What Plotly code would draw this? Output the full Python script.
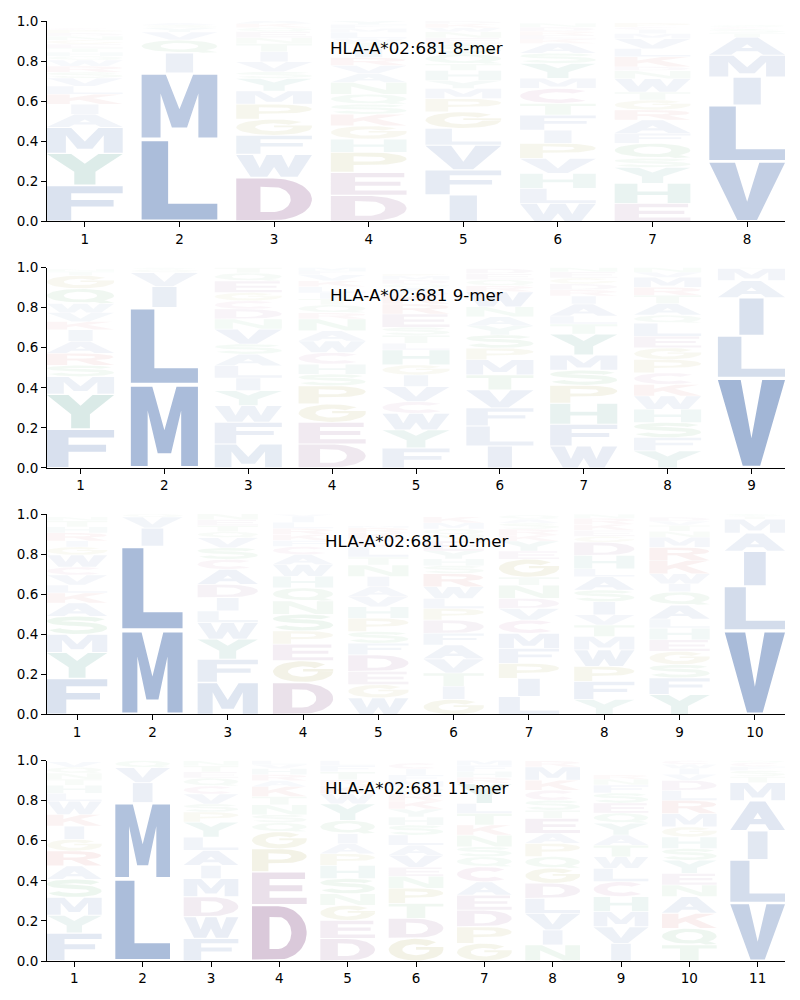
import numpy as np
import plotly.graph_objects as go
from plotly.subplots import make_subplots

# ---------------- data (bottom-to-top stacks, probability heights) ----------------
TITLES = ["HLA-A*02:681 8-mer", "HLA-A*02:681 9-mer",
          "HLA-A*02:681 10-mer", "HLA-A*02:681 11-mer"]

LOGO_8 = [
    [("F", .18), ("Y", .16), ("M", .13), ("A", .065), ("I", .05), ("K", .05), ("L", .04), ("V", .04),
     ("S", .03), ("R", .03), ("W", .03), ("Q", .02), ("H", .02), ("T", .02), ("E", .02), ("G", .02),
     ("N", .02), ("D", .015), ("P", .015), ("C", .01)],
    [("L", .41), ("M", .33), ("I", .10), ("Q", .065), ("V", .04), ("Y", .02), ("S", .015), ("A", .01)],
    [("D", .22), ("W", .115), ("F", .095), ("G", .08), ("P", .075), ("M", .066), ("Y", .063), ("S", .033),
     ("V", .05), ("I", .05), ("T", .04), ("N", .03), ("E", .03), ("Q", .02), ("K", .02), ("A", .02)],
    [("D", .13), ("E", .115), ("P", .10), ("H", .066), ("G", .066), ("K", .058), ("S", .05), ("Q", .05),
     ("N", .058), ("A", .045), ("V", .04), ("R", .04), ("I", .045), ("T", .03), ("W", .02), ("L", .03),
     ("M", .02), ("F", .02), ("Y", .017)],
    [("I", .133), ("F", .124), ("V", .124), ("L", .083), ("G", .083), ("P", .066), ("M", .05), ("Y", .04),
     ("H", .05), ("T", .033), ("Q", .05), ("S", .05), ("E", .03), ("N", .03), ("W", .02), ("K", .02),
     ("D", .014)],
    [("W", .09), ("L", .075), ("H", .075), ("V", .075), ("P", .075), ("I", .066), ("F", .075), ("T", .058),
     ("C", .075), ("M", .05), ("Y", .075), ("S", .05), ("A", .05), ("K", .02), ("E", .02), ("R", .02),
     ("D", .02), ("N", .02)],
    [("E", .09), ("H", .10), ("Y", .08), ("S", .045), ("Q", .075), ("F", .05), ("A", .066), ("R", .05),
     ("G", .05), ("T", .04), ("W", .066), ("N", .04), ("D", .02), ("K", .05), ("L", .04), ("V", .05),
     ("M", .025), ("I", .02), ("C", .013), ("P", .02)],
    [("V", .30), ("L", .28), ("I", .14), ("M", .11), ("A", .09), ("T", .02), ("S", .02), ("C", .01),
     ("Q", .01)],
]

LOGO_9 = [
    [("F", .194), ("Y", .174), ("M", .088), ("S", .056), ("R", .06), ("A", .06), ("I", .058), ("K", .04),
     ("V", .045), ("W", .045), ("Q", .075), ("G", .066), ("T", .02), ("N", .01)],
    [("M", .415), ("L", .385), ("I", .105), ("V", .07), ("Q", .015), ("S", .01)],
    [("M", .12), ("F", .108), ("W", .083), ("Y", .075), ("I", .063), ("L", .061), ("A", .058), ("S", .05),
     ("V", .075), ("N", .05), ("D", .05), ("C", .041), ("G", .041), ("E", .058), ("Q", .04), ("T", .027)],
    [("D", .12), ("E", .108), ("G", .091), ("P", .091), ("S", .058), ("H", .05), ("C", .058), ("W", .058),
     ("A", .05), ("N", .06), ("R", .03), ("Q", .04), ("T", .03), ("I", .03), ("L", .03), ("K", .03),
     ("V", .03), ("F", .02), ("M", .016)],
    [("F", .10), ("Y", .09), ("W", .083), ("C", .058), ("V", .075), ("I", .058), ("G", .05), ("H", .075),
     ("L", .033), ("T", .04), ("S", .04), ("E", .066), ("R", .05), ("K", .05), ("A", .03), ("Q", .02),
     ("D", .02), ("M", .02), ("P", .01)],
    [("I", .11), ("L", .10), ("F", .09), ("V", .09), ("T", .075), ("M", .075), ("P", .058), ("S", .066),
     ("Y", .045), ("A", .045), ("N", .05), ("W", .075), ("R", .03), ("Q", .03), ("E", .03), ("D", .026)],
    [("W", .11), ("F", .108), ("H", .105), ("P", .09), ("S", .075), ("M", .075), ("Y", .105), ("T", .05),
     ("L", .04), ("A", .06), ("I", .04), ("R", .03), ("D", .03), ("G", .03), ("E", .03), ("N", .022)],
    [("Y", .086), ("F", .066), ("S", .075), ("H", .066), ("W", .066), ("K", .058), ("C", .058), ("P", .066),
     ("G", .058), ("E", .058), ("L", .066), ("Q", .04), ("A", .058), ("T", .04), ("R", .04), ("M", .05),
     ("V", .025), ("N", .025)],
    [("V", .45), ("L", .21), ("I", .19), ("A", .085), ("M", .06), ("T", .005)],
]

LOGO_10 = [
    [("F", .18), ("Y", .13), ("M", .09), ("S", .09), ("A", .066), ("K", .05), ("L", .04), ("V", .05),
     ("C", .04), ("W", .06), ("G", .04), ("I", .03), ("R", .04), ("H", .03), ("T", .03), ("N", .02)],
    [("M", .42), ("L", .42), ("I", .09), ("V", .055), ("Q", .015)],
    [("M", .16), ("F", .116), ("Y", .10), ("W", .083), ("L", .058), ("I", .066), ("D", .066), ("A", .075),
     ("C", .05), ("S", .058), ("V", .05), ("Q", .03), ("T", .03), ("E", .03), ("N", .03)],
    [("D", .16), ("G", .108), ("E", .083), ("P", .066), ("S", .083), ("N", .066), ("Q", .066), ("H", .058),
     ("W", .058), ("A", .05), ("C", .04), ("F", .03), ("K", .03), ("R", .03), ("L", .03), ("I", .03),
     ("V", .01)],
    [("W", .083), ("G", .066), ("E", .066), ("D", .083), ("F", .058), ("S", .058), ("P", .066), ("H", .058),
     ("V", .05), ("A", .05), ("I", .05), ("N", .058), ("T", .04), ("L", .05), ("C", .04), ("K", .03),
     ("R", .025), ("M", .01)],
    [("G", .075), ("I", .066), ("T", .066), ("V", .07), ("A", .07), ("F", .058), ("D", .066), ("P", .058),
     ("L", .05), ("W", .058), ("R", .066), ("S", .04), ("H", .033), ("Y", .04), ("E", .05), ("N", .03),
     ("Q", .03), ("M", .03), ("K", .03)],
    [("L", .09), ("I", .09), ("P", .075), ("F", .075), ("M", .075), ("C", .066), ("V", .058), ("D", .05),
     ("N", .066), ("T", .04), ("G", .09), ("E", .04), ("Y", .05), ("K", .03), ("R", .03), ("S", .03),
     ("A", .02), ("Q", .02)],
    [("Y", .075), ("F", .09), ("P", .075), ("W", .083), ("M", .066), ("T", .058), ("V", .05), ("I", .066),
     ("S", .058), ("A", .066), ("L", .04), ("H", .066), ("D", .066), ("G", .03), ("E", .03), ("K", .03),
     ("R", .03), ("N", .02)],
    [("Y", .10), ("F", .083), ("S", .066), ("G", .066), ("E", .058), ("H", .058), ("L", .045), ("A", .07),
     ("Q", .066), ("I", .04), ("W", .05), ("K", .066), ("R", .066), ("M", .05), ("N", .03), ("T", .03),
     ("V", .02), ("D", .02)],
    [("V", .42), ("L", .22), ("I", .175), ("A", .09), ("M", .07), ("T", .015), ("S", .01)],
]

LOGO_11 = [
    [("F", .14), ("Y", .088), ("M", .09), ("S", .09), ("A", .066), ("R", .075), ("G", .058), ("I", .066),
     ("K", .058), ("W", .066), ("L", .04), ("H", .04), ("T", .03), ("N", .03), ("Q", .03), ("V", .026)],
    [("L", .41), ("M", .38), ("I", .10), ("V", .075), ("Q", .035)],
    [("F", .113), ("W", .108), ("D", .10), ("M", .09), ("I", .066), ("A", .075), ("L", .066), ("Y", .075),
     ("P", .05), ("S", .04), ("V", .05), ("C", .04), ("Q", .04), ("E", .03), ("T", .03), ("N", .025)],
    [("D", .28), ("E", .165), ("P", .115), ("G", .085), ("Q", .045), ("S", .04), ("N", .05), ("T", .04),
     ("K", .05), ("A", .03), ("R", .03), ("H", .03), ("V", .02), ("L", .02)],
    [("D", .113), ("E", .09), ("G", .075), ("N", .058), ("S", .075), ("H", .066), ("P", .058), ("A", .05),
     ("I", .05), ("Q", .066), ("Y", .083), ("W", .05), ("K", .04), ("R", .03), ("T", .04), ("F", .03),
     ("L", .025)],
    [("G", .113), ("D", .10), ("T", .075), ("P", .075), ("N", .06), ("E", .045), ("V", .06), ("A", .05),
     ("L", .05), ("S", .05), ("H", .04), ("Y", .04), ("K", .04), ("R", .04), ("Q", .03), ("M", .03),
     ("F", .03), ("I", .03), ("C", .03)],
    [("G", .088), ("P", .083), ("D", .083), ("E", .075), ("A", .066), ("C", .075), ("Q", .05), ("S", .05),
     ("N", .058), ("K", .05), ("T", .058), ("L", .05), ("Y", .10), ("R", .03), ("H", .03), ("F", .03),
     ("M", .026)],
    [("N", .08), ("I", .075), ("V", .083), ("L", .075), ("D", .075), ("G", .075), ("Q", .058), ("P", .066),
     ("A", .05), ("E", .075), ("T", .04), ("S", .05), ("C", .05), ("K", .05), ("M", .066), ("R", .03)],
    [("I", .088), ("V", .083), ("M", .075), ("H", .075), ("C", .075), ("L", .066), ("W", .058), ("T", .058),
     ("A", .05), ("Y", .06), ("Q", .05), ("E", .05), ("S", .05), ("F", .04), ("N", .03), ("R", .02)],
    [("T", .08), ("Q", .083), ("K", .075), ("A", .083), ("N", .058), ("E", .058), ("Y", .066), ("S", .058),
     ("H", .058), ("G", .05), ("M", .066), ("R", .066), ("L", .05), ("D", .05), ("V", .03), ("I", .03),
     ("W", .02), ("C", .02)],
    [("V", .29), ("L", .215), ("I", .145), ("A", .15), ("M", .09), ("T", .03), ("S", .03), ("F", .02),
     ("C", .02), ("Q", .01)],
]

LOGOS = [LOGO_8, LOGO_9, LOGO_10, LOGO_11]
Y_TICKS = [0.0, 0.2, 0.4, 0.6, 0.8, 1.0]

# ---------------- styles ----------------
BASE_COLORS = {
    "blue": (76, 114, 176), "teal": (64, 150, 135), "purple": (140, 86, 140),
    "pink": (175, 95, 150), "red": (196, 78, 82), "green": (85, 168, 104),
    "olive": (160, 155, 60),
}
GROUP = {}
for _l in "AILMFWV":
    GROUP[_l] = "blue"
for _l in "YH":
    GROUP[_l] = "teal"
for _l in "DE":
    GROUP[_l] = "purple"
GROUP["C"] = "pink"
for _l in "KR":
    GROUP[_l] = "red"
for _l in "NQST":
    GROUP[_l] = "green"
for _l in "GP":
    GROUP[_l] = "olive"

FONT = "DejaVu Sans"
COL_WIDTH = 0.8
VPAD = 0.05


# ---------------- glyph outlines (unit box) ----------------
def arc(cx, cy, rx, ry, a0, a1, n=30):
    t = np.radians(np.linspace(a0, a1, n))
    return [(cx + rx * np.cos(a), cy + ry * np.sin(a)) for a in t]


def stroke(pts, hw):
    P = np.array(pts, dtype=float)
    d = np.gradient(P, axis=0)
    d /= np.linalg.norm(d, axis=1)[:, None]
    nrm = np.stack([-d[:, 1], d[:, 0]], axis=1)
    left = P + nrm * hw
    right = P - nrm * hw
    return [tuple(p) for p in left] + [tuple(p) for p in right[::-1]]


def rect(x0, y0, x1, y1):
    return [(x0, y0), (x1, y0), (x1, y1), (x0, y1)]


def signed_area(poly):
    a = 0.0
    for i in range(len(poly)):
        x0, y0 = poly[i]
        x1, y1 = poly[(i + 1) % len(poly)]
        a += x0 * y1 - x1 * y0
    return a / 2


def orient(poly, hole):
    ccw = signed_area(poly) > 0
    if hole == ccw:
        return poly[::-1]
    return poly


SW = 0.32  # vertical stem width
GLYPHS = {
    "A": [([(0, 0), (0.29, 0), (0.36, 0.2), (0.64, 0.2), (0.71, 0), (1, 0), (0.64, 1), (0.36, 1)], False),
          ([(0.425, 0.38), (0.575, 0.38), (0.5, 0.6)], True)],
    "C": [(stroke(arc(0.5, 0.5, 0.375, 0.38, 42, 318, 40), 0.125), False)],
    "D": [([(0, 0), (0.48, 0)] + arc(0.48, 0.5, 0.52, 0.5, -90, 90)[1:-1] + [(0.48, 1), (0, 1)], False),
          ([(SW, 0.2), (0.48, 0.2)] + arc(0.48, 0.5, 0.24, 0.3, -90, 90)[1:-1] + [(0.48, 0.8), (SW, 0.8)], True)],
    "E": [([(0, 0), (1, 0), (1, 0.2), (SW, 0.2), (SW, 0.41), (0.92, 0.41), (0.92, 0.6), (SW, 0.6),
            (SW, 0.8), (0.97, 0.8), (0.97, 1), (0, 1)], False)],
    "F": [([(0, 0), (SW, 0), (SW, 0.41), (0.88, 0.41), (0.88, 0.6), (SW, 0.6), (SW, 0.8), (1, 0.8),
            (1, 1), (0, 1)], False)],
    "G": [(stroke(arc(0.5, 0.5, 0.375, 0.38, 42, 360, 40), 0.125), False),
          (rect(0.5, 0.5, 1.0, 0.62), False)],
    "H": [([(0, 0), (0.3, 0), (0.3, 0.41), (0.7, 0.41), (0.7, 0), (1, 0), (1, 1), (0.7, 1), (0.7, 0.6),
            (0.3, 0.6), (0.3, 1), (0, 1)], False)],
    "I": [(rect(0.32, 0, 0.68, 1), False)],
    "K": [([(0, 0), (0.3, 0), (0.3, 0.3), (0.43, 0.45), (0.7, 0), (1, 0), (0.61, 0.62), (0.97, 1), (0.62, 1),
            (0.3, 0.62), (0.3, 1), (0, 1)], False)],
    "L": [([(0, 0), (1, 0), (1, 0.2), (0.35, 0.2), (0.35, 1), (0, 1)], False)],
    "M": [([(0, 0), (0.25, 0), (0.25, 0.7), (0.4, 0.16), (0.6, 0.16), (0.75, 0.7), (0.75, 0), (1, 0), (1, 1),
            (0.68, 1), (0.5, 0.45), (0.32, 1), (0, 1)], False)],
    "N": [([(0, 0), (0.27, 0), (0.27, 0.66), (0.7, 0), (1, 0), (1, 1), (0.73, 1), (0.73, 0.34), (0.3, 1),
            (0, 1)], False)],
    "P": [([(0, 0), (0.3, 0), (0.3, 0.36), (0.55, 0.36)] + arc(0.55, 0.68, 0.45, 0.32, -90, 90)[1:-1]
           + [(0.55, 1), (0, 1)], False),
          ([(0.3, 0.54), (0.55, 0.54)] + arc(0.55, 0.68, 0.17, 0.14, -90, 90)[1:-1] + [(0.55, 0.82), (0.3, 0.82)], True)],
    "Q": [(arc(0.5, 0.53, 0.5, 0.47, 0, 360, 48)[:-1], False),
          (arc(0.5, 0.53, 0.25, 0.27, 0, 360, 48)[:-1], True),
          ([(0.6, 0.2), (0.78, 0.3), (1.0, 0.04), (0.8, 0.0)], False)],
    "R": [([(0, 0), (0.3, 0), (0.3, 0.4), (0.45, 0.4), (0.7, 0), (1, 0), (0.72, 0.45)]
           + arc(0.55, 0.7, 0.44, 0.3, -50, 90, 25)[:-1] + [(0.55, 1), (0, 1)], False),
          ([(0.3, 0.57), (0.55, 0.57)] + arc(0.55, 0.7, 0.17, 0.13, -90, 90)[1:-1] + [(0.55, 0.83), (0.3, 0.83)], True)],
    "S": [(stroke(arc(0.5, 0.74, 0.39, 0.16, 15, 270, 30) + arc(0.5, 0.34, 0.39, 0.24, 90, -165, 36)[1:], 0.11), False)],
    "T": [([(0.33, 0), (0.67, 0), (0.67, 0.8), (1, 0.8), (1, 1), (0, 1), (0, 0.8), (0.33, 0.8)], False)],
    "V": [([(0, 1), (0.37, 0), (0.63, 0), (1, 1), (0.66, 1), (0.5, 0.32), (0.34, 1)], False)],
    "W": [([(0, 1), (0.19, 0), (0.41, 0), (0.5, 0.45), (0.59, 0), (0.81, 0), (1, 1), (0.78, 1), (0.69, 0.4),
            (0.6, 1), (0.4, 1), (0.31, 0.4), (0.22, 1)], False)],
    "Y": [([(0.36, 0), (0.64, 0), (0.64, 0.42), (1, 1), (0.68, 1), (0.5, 0.68), (0.32, 1), (0, 1), (0.36, 0.42)], False)],
}


def letter_alpha(h):
    return min(0.9, 0.02 + 1.2 * h ** 1.1)


# ---------------- figure ----------------
fig = make_subplots(rows=4, cols=1, vertical_spacing=0.049)

for r, logo in enumerate(LOGOS, start=1):
    for pos, stack in enumerate(logo, start=1):
        cum = 0.0
        for letter, h in stack:
            y0 = cum + VPAD / 2 * h
            y1 = cum + h - VPAD / 2 * h
            x0 = pos - COL_WIDTH / 2
            xs, ys = [], []
            for poly, hole in GLYPHS[letter]:
                poly = orient(poly, hole)
                for gx, gy in poly + [poly[0]]:
                    xs.append(x0 + gx * COL_WIDTH)
                    ys.append(y0 + gy * (y1 - y0))
                xs.append(None)
                ys.append(None)
            rgb = BASE_COLORS[GROUP[letter]]
            a = letter_alpha(h)
            col = f"rgba({rgb[0]},{rgb[1]},{rgb[2]},{a:.3f})"
            fig.add_trace(go.Scatter(x=xs, y=ys, mode="lines", fill="toself", fillcolor=col,
                                     line=dict(width=0, color=col), hoverinfo="skip",
                                     showlegend=False), row=r, col=1)
            cum += h

    n = len(logo)
    axis_common = dict(showline=True, linecolor="black", linewidth=1, ticks="outside", ticklen=5,
                       tickwidth=1, tickcolor="black", showgrid=False, zeroline=False,
                       tickfont=dict(family=FONT, size=13.5, color="black"))
    fig.update_xaxes(range=[1 - 0.4, n + 0.4], tickvals=list(range(1, n + 1)),
                     ticktext=[str(i) for i in range(1, n + 1)], row=r, col=1, **axis_common)
    fig.update_yaxes(range=[0, 1], tickvals=Y_TICKS, ticktext=[f"{v:.1f}" for v in Y_TICKS],
                     row=r, col=1, **axis_common)
    sfx = "" if r == 1 else str(r)
    fig.add_annotation(text=TITLES[r - 1], x=0.5, y=0.925, xref=f"x{sfx} domain", yref=f"y{sfx} domain",
                       showarrow=False, font=dict(family=FONT, size=16.7, color="black"))

fig.update_layout(width=800, height=1000, margin=dict(l=47, r=15, t=21, b=39),
                  plot_bgcolor="white", paper_bgcolor="white", showlegend=False,
                  font=dict(family=FONT))
fig.write_html("out.html")
